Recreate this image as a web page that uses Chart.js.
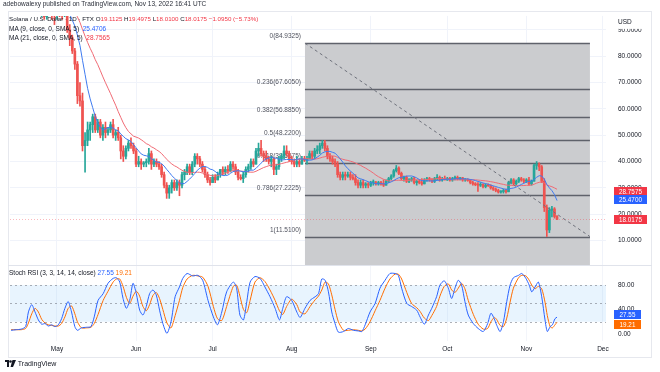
<!DOCTYPE html>
<html><head><meta charset="utf-8">
<script src="https://cdn.jsdelivr.net/npm/chart.js@4.4.1/dist/chart.umd.min.js"></script>
<style>
html,body{margin:0;padding:0;background:#fff;}
#wrap{position:relative;width:660px;height:372px;overflow:hidden;font-family:"Liberation Sans",Arial,sans-serif;}
canvas{position:absolute;left:0;top:0;}
.t{position:absolute;white-space:nowrap;font-size:6.5px;line-height:8px;color:#131722;}
.r{color:#f23645;} .b{color:#2962ff;} .o{color:#ff6d00;}
.frame{position:absolute;left:8px;top:11px;width:644px;height:347px;border:1px solid #e6e8ee;box-sizing:border-box;}
.sep{position:absolute;left:8px;top:265px;width:644px;height:1px;background:#e0e3eb;}
</style></head>
<body><div id="wrap">
<div class="frame"></div>
<canvas id="main" width="660" height="372"></canvas>
<canvas id="rsi" width="660" height="372"></canvas>
<div class="sep"></div>
<div class="t" style="left:3px;top:0px;color:#2a2e39">adebowalexy published on TradingView.com, Nov 13, 2022 16:41 UTC</div>
<div class="t" style="left:9px;top:15px;font-size:6.2px;">Solana / U.S. Dollar · 1D · FTX O<span class="r">19.1125</span> H<span class="r">19.4975</span> L<span class="r">18.0100</span> C<span class="r">18.0175</span> <span class="r">−1.0950 (−5.73%)</span></div>
<div class="t" style="left:9px;top:24.5px;">MA (9, close, 0, SMA, 5) &nbsp;<span class="b">25.4706</span></div>
<div class="t" style="left:9px;top:33.5px;">MA (21, close, 0, SMA, 5) &nbsp;<span class="r">28.7565</span></div>
<div class="t" style="left:9px;top:269px;">Stoch RSI (3, 3, 14, 14, close) <span class="b">27.55</span> <span class="o">19.21</span></div>
<div class="t" style="left:5px;top:359px;font-size:7px;line-height:9px;color:#131722;">
<svg width="11" height="7" viewBox="0 0 22 14" style="vertical-align:-1px"><path d="M0 0h8v14H4V4H0z" fill="#131722"/><circle cx="11" cy="3" r="2.6" fill="#131722"/><path d="M15 0h7l-6 14h-5z" fill="#131722"/></svg> TradingView</div>
</div>
<script>
// ---- data ----
const startDate = '2022-04-13';   // day index 0
const opens = [102,108,102,106,104,101,104,107,103,101, 102,101,99,101,95,98,102,97,96,98,
 97,96,100,90,87,82,77,65,63,46, 48,52,54,57,52,55,50,53,51,52,
 54,50,51,49,44,42,45,47,46,44, 39,40,39,39.5,40,43,39,40,39,38,
 35,31,28,30,32,30,32,31,35,36, 38,36,39,42,41,39,37,35,33,32,
 34,33,35,37,36,37,36.5,39,38,36, 34,33.5,35,37,38,40,39,44,45,43,
 42,41,40,41,37,38,41,42,44,43, 41,40,39,40,39,41,40.5,41,43,42,
 44,44.5,46,47,45,42,41,40,39,35, 34,35,34.5,35,34,33.5,32,31,32,31,
 31.5,31,32,32,31.5,32,31.5,31,32.5,33.5, 34.5,36.5,37.5,35.5,33.5,34,32.5,33,33.5,32,
 32.5,32,31.5,33,33.5,33,32.5,33.5,34,33, 33.5,33,33.6,33,33.5,34,33.4,33.8,33,33.2,
 32.8,32,31.5,31.2,31,31.4,30.5,31,30.8,30, 29.5,29,28.4,28.6,29,28.5,32,33,31.5,32.5,
 33.5,33,32.5,33,31.5,32.5,38.5,39,38,32.5, 22.5,14,21.5,22,19.1125];
const highs = [110,109,107,107,105,105,108,110,108,104, 103,102,102,102,99,104,103,99,99,100,
 99,101,101,92,88,83,78,70,66,51, 55,55,58,58,56,56,54,55,53,55,
 56,52,53,50,46,46,48,49,47,45, 42,41,40,41,45,44,41,41,40,39,
 36,32,31,33,33,33,33,36,37,39, 39,40,43,43,42,40,38,36,34,35,
 35,36,37,38,38,38.5,40,40,39,37, 35,36,38,39,41,41,45,47,48,44,
 44,42,42,41.5,39,42,43,46,46,44, 42,41,42,41,42,42,42,44,44,45,
 46,47,48,48,46,43,42,41,40,36, 36,36,36,36,35,35,33,33,33,32,
 32,32.5,33,32.5,32.5,32.5,33,33,34,35, 37,38.5,38,36,34.5,34.5,33.5,34,34,33,
 33,33.5,33.5,34,34,33.5,34,35,34.5,34, 34.5,34,34,34,34.5,34.5,34,34,33.5,33.5,
 33.2,32.5,32,32,32,31.5,31.5,31.5,31.2,30.5, 30,29.5,29,29.5,29.5,32.5,33.5,33.5,33,34,
 34,33.5,33.5,34,33,39,40,39.5,38.5,33.5, 23.5,22.5,23,22.5,19.4975];
const lows = [101,101,101,102,100,97,102,102,100,99, 99,97,95,94,94,97,94,92,94,95,
 94,95,89,84,81,75,62,61,44,36, 46,48,51,51,51,49,48,49,50,51,
 49,48,48,41,40,41,44,45,43,38, 38,37,38,38,39,37,38,38,37,34,
 30,26,26,28,29,29,27,30,33,35, 35,35,38,39,38,36,34,32,31,32,
 32,33,34,35,35,35.5,36,37,35,33, 33,32,34,36,37,38,39,42,42,40,
 40,39,38,35,35,37,40,41,42,40, 39,38,38,38,39,40,39,41,41,41,
 43,43,45,44,41,40,39,38,34,33, 33,33,34,33,33,31,30,30,30,30,
 30,30.5,31,31,31,31,30.5,31,32,33, 34,36,35,33,32.5,32,32,32.5,31.5,31,
 31.5,31,31.5,32.5,32.5,32,32,33,32.5,32.5, 33,32.8,32.5,32.5,33,33,33,32.5,32.5,32.5,
 31.5,31,30.8,28.6,30.5,30,30,30.5,29.5,29, 28.5,28,28,28,28,28.5,31.5,31,31,32,
 32.5,32,32,31,31,32.5,37,36.5,32,21, 11.51,13,19,18.5,18.01];
const closes = [108,102,106,104,101,104,107,103,101,102, 101,99,101,95,98,102,97,96,98,97,
 96,100,90,87,82,77,65,63,46,48, 52,54,57,52,55,50,53,51,52,54,
 50,51,49,44,42,45,47,46,44,39, 40,39,39.5,40,43,39,40,39,38,35,
 31,28,30,32,30,32,31,35,36,38, 36,39,42,41,39,37,35,33,32,34,
 33,35,37,36,37,36.5,39,38,36,34, 33.5,35,37,38,40,39,44,45,43,42,
 41,40,41,37,38,41,42,44,43,41, 40,39,40,39,41,40.5,41,43,42,44,
 44.5,46,47,45,42,41,40,39,35,34, 35,34.5,35,34,33.5,32,31,32,31,31.5,
 31,32,32,31.5,32,31.5,31,32.5,33.5,34.5, 36.5,37.5,35.5,33.5,34,32.5,33,33.5,32,32.5,
 32,31.5,33,33.5,33,32.5,33.5,34,33,33.5, 33,33.6,33,33.5,34,33.4,33.8,33,33.2,32.8,
 32,31.5,31.2,31,31.4,30.5,31,30.8,30,29.5, 29,28.4,28.6,29,28.5,32,33,31.5,32.5,33.5,
 33,32.5,33,31.5,32.5,38.5,39,38,32.5,22.5, 14,21.5,22,19.1125,18.0175];
const monthTicks  = [18,49,79,110,141,171,202,232];
const monthLabels = ['May','Jun','Jul','Aug','Sep','Oct','Nov','Dec'];
const priceTicks  = [10,20,30,40,50,60,70,80,90];
const fibPrices = [84.9325,67.605,56.885,48.22,39.5575,27.2225,11.51];
const fibLabels = ['0(84.9325)','0.236(67.6050)','0.382(56.8850)','0.5(48.2200)','0.618(39.5575)','0.786(27.2225)','1(11.5100)'];
const fibStartDay = 115.2, fibEndDay = 226.9;
const lastPrice = 18.0175;
const maBoxValues = [28.7575, 25.47];
const rsiDays = [0,2,4,5.7,6.8,8.1,9.4,10.7,12,13.3, 14.6,15.9,17.2,18.5,19.8,21.1,22.4,23.7,25,26,
 27.6,29.6,31.3,32.6,34.1,36.1,38,40,41.3,42.6, 43.9,45.2,46.5,47.8,49.1,50.4,51.7,53,54.3,55.6,
 56.9,58.2,59.5,61.1,62.7,64.3,66,67.3,69,71.2, 73.2,75.1,77.2,79.3,80.9,82.6,84.5,87.1,88.4,89.7,
 91.1,92.4,93.7,95.6,97.6,99.5,101.5,103.5,105.2,106.5, 108,110,112,113.3,115.2,117.2,119.2,120.5,121.8,123.1,
 124.4,125.7,127,128.3,130.3,132.2,134.2,136.1,137.5,138.8, 140.7,142.7,144.6,146.6,148.5,150.5,151.8,153.1,155.1,157,
 159,160.3,162,163.6,164.9,166.8,168.1,169.8,171.4,172.7, 174,175.3,176.6,177.9,179.2,181.2,183.1,185.1,186.8,188.1,
 189.4,190.3,191.7,193,194.3,195.6,196.9,198.9,200.2,201.8, 203.1,204.1,205.4,206.7,208,209.3,210.2,211.3,212.2,213.2, 214];
const kValues = [6,7,8,12,36,48,36,23,16,17, 13,15,12,15,25,42,53,36,12,6,
 10,11,12,28,55,66,83,91,92,85, 58,42,55,83,66,39,31,45,66,72,
 64,39,17,1,20,61,77,91,99,95, 96,88,55,28,15,36,69,85,75,31,
 23,53,85,94,91,77,61,42,23,42, 61,55,36,27,42,55,61,66,90,88,
 69,36,17,3,4,9,6,5,4,15, 36,50,75,88,99,99,96,75,50,45,
 39,28,16,31,42,61,80,87,75,58, 75,88,80,53,31,17,9,4,17,34,
 25,15,4,20,53,80,92,96,99,91, 80,69,77,85,61,23,4,12,15,25, 27.55];
const dValues = [7,7,7,9,18,33,42,36,24,18, 15,14,13,13,17,28,42,46,33,20,
 10,10,11,17,32,55,70,85,90,90, 78,60,50,62,70,62,45,38,48,63,
 68,58,40,18,10,30,55,76,90,96, 95,93,78,45,25,22,45,78,80,62,
 40,35,55,85,92,86,72,55,38,32, 45,57,48,36,33,45,56,62,72,85,
 82,64,40,20,6,6,7,6,5,8, 20,38,55,75,90,98,98,90,68,50,
 43,37,26,22,30,45,62,78,82,72, 68,75,83,74,55,32,16,8,9,20,
 27,24,14,12,26,52,75,92,96,95, 88,80,74,78,74,52,30,12,10,15, 19.21];
const rsiTicks = [0,40,80];
const rsiBands = [80,50,20];
const rsiBoxValues = [27.55, 19.21];

// ---- styles / layout ----
const FONT = '"Liberation Sans", Arial, sans-serif';
const UP = '#26a69a', DOWN = '#ef5350';
const X_MIN = -0.42, X_MAX = 233.2;

function sma(src, n){
  const out = [];
  for (let i = n-1; i < src.length; i++){
    let s = 0; for (let j = i-n+1; j <= i; j++) s += src[j];
    out.push({x:i, y:s/n});
  }
  return out;
}
const colors = closes.map((c,i)=> c >= opens[i] ? UP : DOWN);
const bodies = closes.map((c,i)=>({x:i, y:[opens[i], c]}));
const wicks  = closes.map((c,i)=>({x:i, y:[lows[i], highs[i]]}));

function drawBox(ctx, x, y, w, h, bg, text){
  ctx.fillStyle = bg;
  ctx.fillRect(x, Math.round(y - h/2), w, h);
  ctx.fillStyle = '#fff';
  ctx.textAlign = 'center'; ctx.textBaseline = 'middle';
  ctx.fillText(text, x + w/2, Math.round(y - h/2) + h/2 + 0.5);
}

const mainPlugin = {
  id: 'mainDecor',
  beforeDatasetsDraw(chart){
    const {ctx, chartArea:a, scales:{x, y}} = chart;
    const x0 = x.getPixelForValue(fibStartDay), x1 = x.getPixelForValue(fibEndDay);
    const yTop = y.getPixelForValue(fibPrices[0]);
    ctx.save();
    ctx.beginPath(); ctx.rect(a.left, a.top, a.right-a.left, a.bottom-a.top); ctx.clip();
    ctx.fillStyle = '#cbcccf';
    ctx.fillRect(x0, yTop, x1-x0, a.bottom - yTop + 2);
    ctx.strokeStyle = '#5f626b'; ctx.lineWidth = 1.5;
    ctx.font = '6.5px ' + FONT; ctx.fillStyle = '#50535e';
    ctx.textAlign = 'right'; ctx.textBaseline = 'bottom';
    fibPrices.forEach((p, i)=>{
      const yy = Math.round(y.getPixelForValue(p)) + 0.5;
      ctx.beginPath(); ctx.moveTo(x0, yy); ctx.lineTo(x1, yy); ctx.stroke();
      ctx.fillText(fibLabels[i], x0 - 4, yy - 4);
    });
    ctx.restore();
  },
  afterDatasetsDraw(chart){
    const {ctx, chartArea:a, scales:{x, y}} = chart;
    ctx.save();
    ctx.beginPath(); ctx.rect(a.left, a.top, a.right-a.left, a.bottom-a.top); ctx.clip();
    const yl = Math.round(y.getPixelForValue(lastPrice)) + 0.5;
    ctx.strokeStyle = 'rgba(242,54,69,0.35)'; ctx.lineWidth = 1; ctx.setLineDash([1,2]);
    ctx.beginPath(); ctx.moveTo(a.left, yl); ctx.lineTo(a.right, yl); ctx.stroke();
    ctx.strokeStyle = '#6f727c'; ctx.lineWidth = 1; ctx.setLineDash([3,3]);
    ctx.beginPath();
    ctx.moveTo(x.getPixelForValue(fibStartDay), y.getPixelForValue(fibPrices[0]));
    ctx.lineTo(x.getPixelForValue(fibEndDay), y.getPixelForValue(fibPrices[fibPrices.length-1]));
    ctx.stroke();
    ctx.restore();
  },
  afterDraw(chart){
    const {ctx, chartArea:a, scales:{y}} = chart;
    ctx.save();
    ctx.fillStyle = '#fff';
    ctx.fillRect(a.right + 1, a.top, 44, 13);
    ctx.font = '6.5px ' + FONT; ctx.fillStyle = '#131722';
    ctx.textAlign = 'left'; ctx.textBaseline = 'middle';
    ctx.fillText('USD', a.right + 12, a.top + 6.5);
    const items = [[maBoxValues[0], '#f23645'], [maBoxValues[1], '#2962ff'], [lastPrice, '#f23645']];
    ctx.font = '6.3px ' + FONT;
    items.forEach(([v, c])=> drawBox(ctx, a.right + 8, y.getPixelForValue(v), 33, 9, c, v.toFixed(4)));
    ctx.restore();
  }
};

new Chart(document.getElementById('main'), {
  type: 'bar',
  data: { datasets: [
    {type:'line', data: sma(closes, 9), borderColor:'#3f7bf0', borderWidth:1, pointRadius:0, order:0},
    {type:'line', data: sma(closes, 21), borderColor:'#f06a74', borderWidth:1, pointRadius:0, order:0},
    {data: bodies, backgroundColor: colors, barThickness: 2, minBarLength: 1, grouped:false, order:1},
    {data: wicks, backgroundColor: colors, barThickness: 1, grouped:false, order:2}
  ]},
  options: {
    responsive:false, animation:false, events:[],
    layout:{padding:{left:10, right:0, top:11, bottom:107}},
    plugins:{legend:{display:false}, tooltip:{enabled:false}},
    scales:{
      x:{type:'linear', min:X_MIN, max:X_MAX, offset:false,
         afterBuildTicks:s=>{ s.ticks = monthTicks.map(v=>({value:v})); },
         ticks:{display:false}, grid:{color:'#f0f3fa', drawTicks:false, offset:false}, border:{display:false},
         afterFit:s=>{ s.height = 0; }},
      y:{position:'right', min:0.7, max:95.3, beginAtZero:false,
         afterBuildTicks:s=>{ s.ticks = priceTicks.map(v=>({value:v})); },
         ticks:{padding:12, color:'#131722', font:{size:6.5, family:FONT}, callback:v=>Number(v).toFixed(4)},
         grid:{color:'#f0f3fa', drawTicks:false}, border:{display:false},
         afterFit:s=>{ s.width = 54; }}
    }
  },
  plugins:[mainPlugin]
});

const rsiPlugin = {
  id: 'rsiDecor',
  beforeDatasetsDraw(chart){
    const {ctx, chartArea:a, scales:{y}} = chart;
    ctx.save();
    const yT = y.getPixelForValue(rsiBands[0]), yB = y.getPixelForValue(rsiBands[2]);
    ctx.fillStyle = 'rgba(33,150,243,0.1)';
    ctx.fillRect(a.left, yT, a.right - a.left, yB - yT);
    ctx.strokeStyle = 'rgba(120,123,134,0.6)'; ctx.lineWidth = 1; ctx.setLineDash([2,3]);
    rsiBands.forEach(v=>{
      const yy = Math.round(y.getPixelForValue(v)) + 0.5;
      ctx.beginPath(); ctx.moveTo(a.left, yy); ctx.lineTo(a.right, yy); ctx.stroke();
    });
    ctx.restore();
  },
  afterDraw(chart){
    const {ctx, chartArea:a, scales:{y}} = chart;
    ctx.save();
    ctx.font = '6.3px ' + FONT;
    let y1 = y.getPixelForValue(rsiBoxValues[0]), y2 = y.getPixelForValue(rsiBoxValues[1]);
    if (Math.abs(y2 - y1) < 10){ const m = (y1 + y2)/2; y1 = m - 5; y2 = m + 5; }
    drawBox(ctx, a.right + 8, y1, 27, 9, '#2962ff', rsiBoxValues[0].toFixed(2));
    drawBox(ctx, a.right + 8, y2, 27, 9, '#ff6d00', rsiBoxValues[1].toFixed(2));
    ctx.restore();
  }
};

new Chart(document.getElementById('rsi'), {
  type: 'line',
  data: { datasets: [
    {data: rsiDays.map((d,i)=>({x:d, y:kValues[i]})), borderColor:'#2962ff', borderWidth:1, pointRadius:0, tension:0.25},
    {data: rsiDays.map((d,i)=>({x:d, y:dValues[i]})), borderColor:'#ff6d00', borderWidth:1, pointRadius:0, tension:0.25}
  ]},
  options: {
    responsive:false, animation:false, events:[],
    layout:{padding:{left:10, right:0, top:266, bottom:15}},
    plugins:{legend:{display:false}, tooltip:{enabled:false}},
    scales:{
      x:{type:'linear', min:X_MIN, max:X_MAX, offset:false,
         afterBuildTicks:s=>{ s.ticks = monthTicks.map(v=>({value:v})); },
         ticks:{padding:4, color:'#131722', font:{size:6.5, family:FONT}, maxRotation:0, autoSkip:false,
                callback:v=> monthLabels[monthTicks.indexOf(v)]},
         grid:{color:'#f3f5fa', drawTicks:false}, border:{display:false},
         afterFit:s=>{ s.height = 16; }},
      y:{position:'right', min:-11.5, max:111.3,
         afterBuildTicks:s=>{ s.ticks = rsiTicks.map(v=>({value:v})); },
         ticks:{padding:12, color:'#131722', font:{size:6.5, family:FONT}, callback:v=>Number(v).toFixed(2)},
         grid:{display:false, drawTicks:false}, border:{display:false},
         afterFit:s=>{ s.width = 54; }}
    }
  },
  plugins:[rsiPlugin]
});
</script>
</body></html>
